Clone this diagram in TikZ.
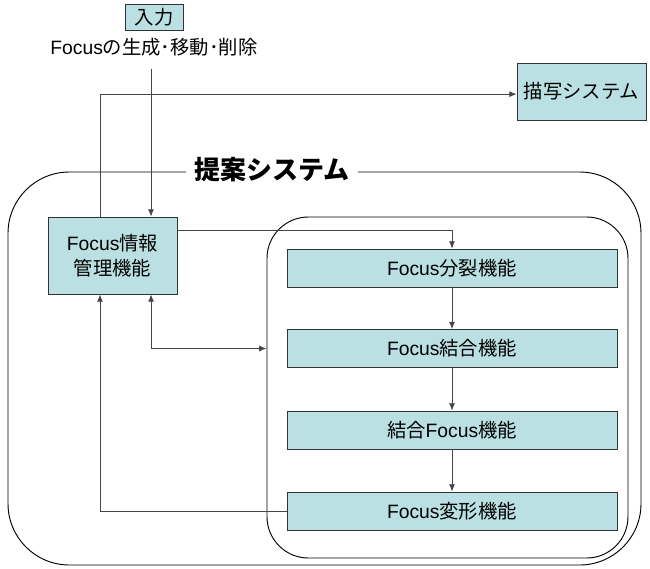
\documentclass[tikz,border=0pt]{standalone}
\usepackage{fontspec}
\setmainfont{Noto Sans CJK JP}
\newfontfamily\lat{Liberation Sans}
\newcommand{\Fc}{{\lat Focus}}
\usetikzlibrary{arrows.meta}
\definecolor{boxfill}{RGB}{187,224,227}
\definecolor{conn}{RGB}{70,70,70}
\tikzset{
  fbox/.style={draw=black!80, line width=0.6pt, fill=boxfill, inner sep=0pt, align=center, font=\fontsize{14.5}{19}\selectfont},
  conline/.style={draw=conn, line width=0.65pt},
  tip/.style={-{Latex[length=5.5pt,width=4.5pt]}},
  frame/.style={draw=black, line width=0.7pt},
}
\begin{document}
\begin{tikzpicture}[x=0.75pt,y=-0.75pt]
\useasboundingbox (0,0) rectangle (650,568);
% frames
\draw[frame, rounded corners=46pt] (8,172) rectangle (641,565);
\node[frame, rounded corners=31pt, minimum width=270.75pt, minimum height=255.75pt] (inner) at (447.5,387.5) {};
\node[fill=white, inner xsep=6pt, inner ysep=2pt, font=\fontsize{19.5}{22}\selectfont\bfseries] (title) at (272,170) {提案システム};
% top items
\node[fbox, minimum width=43.5pt, minimum height=19.5pt] (input) at (154,17) {入力};
\node[font=\fontsize{14.5}{18}\selectfont, inner sep=0pt] (ops) at (154,47) {\Fc の生成･移動･削除};
\node[fbox, minimum width=96.75pt, minimum height=42.75pt] (render) at (581.5,91.5) {描写システム};
\node[fbox, minimum width=96.75pt, minimum height=57.75pt] (info) at (112.5,255.5) {\Fc 情報\\管理機能};
% inner boxes
\node[fbox, minimum width=247.5pt, minimum height=28.5pt] (split) at (452,268) {\Fc 分裂機能};
\node[fbox, minimum width=247.5pt, minimum height=28.5pt] (merge) at (452,348.5) {\Fc 結合機能};
\node[fbox, minimum width=247.5pt, minimum height=28.5pt] (mfocus) at (452,430) {結合\Fc 機能};
\node[fbox, minimum width=247.5pt, minimum height=28.5pt] (deform) at (452,511) {\Fc 変形機能};
% connectors
\coordinate (inTop) at (151,69);
\draw[conline, tip] (inTop) -- (inTop |- info.north);
\draw[conline, tip] ([xshift=-9.4pt]info.north) |- ([yshift=-2pt]render.west);
\draw[conline, tip] ([yshift=19pt]info.east) -| (split.north);
\draw[conline, tip] (split) -- (merge);
\draw[conline, tip] (merge) -- (mfocus);
\draw[conline, tip] (mfocus) -- (deform);
\draw[conline, {Latex[length=5.5pt,width=4.5pt]}-{Latex[length=5.5pt,width=4.5pt]}] ([xshift=28.9pt]info.south) |- (inner.west |- merge.west);
\draw[conline, tip] (deform.west) -| ([xshift=-9.4pt]info.south);
\end{tikzpicture}
\end{document}
